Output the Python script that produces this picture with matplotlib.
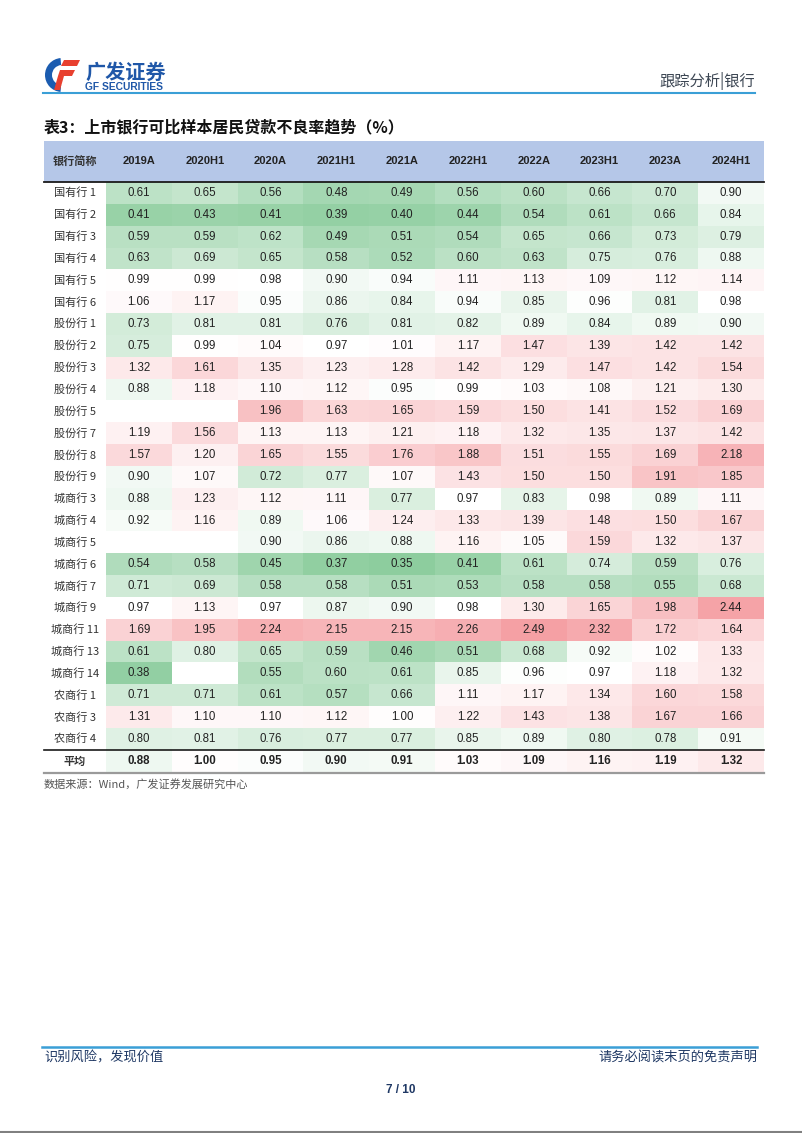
import numpy as np
import matplotlib
matplotlib.use("Agg")
import matplotlib.pyplot as plt
from matplotlib.colors import LinearSegmentedColormap, TwoSlopeNorm
from matplotlib.patches import Rectangle, Wedge, Polygon

plt.rcParams["font.family"] = ["Liberation Sans", "Noto Sans CJK SC", "DejaVu Sans"]
CJK = ["Noto Sans CJK SC", "DejaVu Sans"]

periods = ["2019A", "2020H1", "2020A", "2021H1", "2021A",
           "2022H1", "2022A", "2023H1", "2023A", "2024H1"]
banks = ["国有行 1", "国有行 2", "国有行 3", "国有行 4", "国有行 5", "国有行 6",
         "股份行 1", "股份行 2", "股份行 3", "股份行 4", "股份行 5", "股份行 7",
         "股份行 8", "股份行 9", "城商行 3", "城商行 4", "城商行 5", "城商行 6",
         "城商行 7", "城商行 9", "城商行 11", "城商行 13", "城商行 14",
         "农商行 1", "农商行 3", "农商行 4"]
nan = np.nan
npl = [
    [0.61, 0.65, 0.56, 0.48, 0.49, 0.56, 0.60, 0.66, 0.70, 0.90],
    [0.41, 0.43, 0.41, 0.39, 0.40, 0.44, 0.54, 0.61, 0.66, 0.84],
    [0.59, 0.59, 0.62, 0.49, 0.51, 0.54, 0.65, 0.66, 0.73, 0.79],
    [0.63, 0.69, 0.65, 0.58, 0.52, 0.60, 0.63, 0.75, 0.76, 0.88],
    [0.99, 0.99, 0.98, 0.90, 0.94, 1.11, 1.13, 1.09, 1.12, 1.14],
    [1.06, 1.17, 0.95, 0.86, 0.84, 0.94, 0.85, 0.96, 0.81, 0.98],
    [0.73, 0.81, 0.81, 0.76, 0.81, 0.82, 0.89, 0.84, 0.89, 0.90],
    [0.75, 0.99, 1.04, 0.97, 1.01, 1.17, 1.47, 1.39, 1.42, 1.42],
    [1.32, 1.61, 1.35, 1.23, 1.28, 1.42, 1.29, 1.47, 1.42, 1.54],
    [0.88, 1.18, 1.10, 1.12, 0.95, 0.99, 1.03, 1.08, 1.21, 1.30],
    [nan, nan, 1.96, 1.63, 1.65, 1.59, 1.50, 1.41, 1.52, 1.69],
    [1.19, 1.56, 1.13, 1.13, 1.21, 1.18, 1.32, 1.35, 1.37, 1.42],
    [1.57, 1.20, 1.65, 1.55, 1.76, 1.88, 1.51, 1.55, 1.69, 2.18],
    [0.90, 1.07, 0.72, 0.77, 1.07, 1.43, 1.50, 1.50, 1.91, 1.85],
    [0.88, 1.23, 1.12, 1.11, 0.77, 0.97, 0.83, 0.98, 0.89, 1.11],
    [0.92, 1.16, 0.89, 1.06, 1.24, 1.33, 1.39, 1.48, 1.50, 1.67],
    [nan, nan, 0.90, 0.86, 0.88, 1.16, 1.05, 1.59, 1.32, 1.37],
    [0.54, 0.58, 0.45, 0.37, 0.35, 0.41, 0.61, 0.74, 0.59, 0.76],
    [0.71, 0.69, 0.58, 0.58, 0.51, 0.53, 0.58, 0.58, 0.55, 0.68],
    [0.97, 1.13, 0.97, 0.87, 0.90, 0.98, 1.30, 1.65, 1.98, 2.44],
    [1.69, 1.95, 2.24, 2.15, 2.15, 2.26, 2.49, 2.32, 1.72, 1.64],
    [0.61, 0.80, 0.65, 0.59, 0.46, 0.51, 0.68, 0.92, 1.02, 1.33],
    [0.38, nan, 0.55, 0.60, 0.61, 0.85, 0.96, 0.97, 1.18, 1.32],
    [0.71, 0.71, 0.61, 0.57, 0.66, 1.11, 1.17, 1.34, 1.60, 1.58],
    [1.31, 1.10, 1.10, 1.12, 1.00, 1.22, 1.43, 1.38, 1.67, 1.66],
    [0.80, 0.81, 0.76, 0.77, 0.77, 0.85, 0.89, 0.80, 0.78, 0.91],
]
avg = [0.88, 1.00, 0.95, 0.90, 0.91, 1.03, 1.09, 1.16, 1.19, 1.32]

vals = np.array(npl + [avg])
W, H = 802, 1133

fig = plt.figure(figsize=(W / 100, H / 100), dpi=100)
ax = fig.add_axes([0, 0, 1, 1])
ax.set_xlim(0, W)
ax.set_ylim(H, 0)
ax.axis("off")

# table geometry (pixels)
left, lab_w = 44, 62
col_w = 65.8
row_top, row_h = 182, 21.84
x_edges = left + lab_w + col_w * np.arange(len(periods) + 1)
y_edges = row_top + row_h * np.arange(len(banks) + 1)
y_edges = np.append(y_edges, y_edges[-1] + 23)
right = x_edges[-1]

# green - white - red scale, centre at median
cmap = LinearSegmentedColormap.from_list("gwr", ["#8dcd9e", "#ffffff", "#f5a0a4"])
norm = TwoSlopeNorm(vmin=np.nanmin(vals), vcenter=np.nanmedian(vals), vmax=np.nanmax(vals))
ax.pcolormesh(x_edges, y_edges, np.ma.masked_invalid(vals), cmap=cmap, norm=norm)

# header
ax.add_patch(Rectangle((left, 141), right - left, row_top - 141, color="#b5c7e8", lw=0))
ax.text(left + lab_w / 2, 161.5, "银行简称", ha="center", va="center", fontsize=8,
        fontweight="bold", family=CJK, color="#333333")
xc = (x_edges[:-1] + x_edges[1:]) / 2
for x, p in zip(xc, periods):
    ax.text(x, 161.5, p, ha="center", va="center", fontsize=8, fontweight="bold", color="#222222")

yc = (y_edges[:-1] + y_edges[1:]) / 2
for i, name in enumerate(banks + ["平均"]):
    last = i == len(banks)
    ax.text(left + lab_w / 2, yc[i], name, ha="center", va="center", fontsize=8,
            family=CJK, color="#333333", fontweight="bold" if last else "normal")
    for j, x in enumerate(xc):
        v = vals[i, j]
        if np.isnan(v):
            continue
        ax.text(x, yc[i], f"{v:.2f}", ha="center", va="center", fontsize=8.3,
                color="#222222", fontweight="bold" if last else "normal")

ax.plot([left, right], [row_top, row_top], color="#1a1a1a", lw=1.3)
ax.plot([left, right], [y_edges[-2], y_edges[-2]], color="#1a1a1a", lw=1.2)
ax.plot([left, right], [y_edges[-1], y_edges[-1]], color="#9a9a9a", lw=1.6)

# title and source
ax.text(left, 127, "表3：上市银行可比样本居民贷款不良率趋势（%）", ha="left", va="center",
        fontsize=11.5, fontweight="bold", family=CJK, color="#111111")
ax.text(left, 784, "数据来源：Wind，广发证券发展研究中心", ha="left", va="center",
        fontsize=8, family=CJK, color="#555555")

# page header
ax.add_patch(Wedge((62, 75), 17, 95, 265, width=7, color="#1b5cb0", lw=0))
ax.add_patch(Polygon([[64, 60], [80, 60], [77, 66], [61, 66]], color="#e8402f", lw=0))
ax.add_patch(Polygon([[60, 70], [75, 70], [72, 76], [58, 76]], color="#e8402f", lw=0))
ax.add_patch(Polygon([[58, 76], [64, 76], [60, 90], [54, 90]], color="#e8402f", lw=0))
ax.text(85, 72, "广发证券", ha="left", va="center", fontsize=14.5, fontweight="black",
        family=CJK, color="#1f57a8")
ax.text(85, 87, "GF SECURITIES", ha="left", va="center", fontsize=7.4, fontweight="bold",
        color="#1f57a8")
ax.text(755, 81, "跟踪分析|银行", ha="right", va="center", fontsize=11, family=CJK,
        color="#3c4653")
ax.plot([43, 755], [92.5, 92.5], color="#3a9fd6", lw=1.5)

# page footer
ax.plot([42, 757], [1047, 1047], color="#3a9fd6", lw=1.8)
ax.text(44, 1058, "识别风险，发现价值", ha="left", va="center", fontsize=9.5, family=CJK,
        color="#1f3864")
ax.text(757, 1058, "请务必阅读末页的免责声明", ha="right", va="center", fontsize=9.5,
        family=CJK, color="#1f3864")
ax.text(401, 1090, "7 / 10", ha="center", va="center", fontsize=8.5, fontweight="bold",
        color="#1f3864")
ax.plot([0, W], [H - 1, H - 1], color="#808080", lw=1.5)

fig.savefig("out.png", dpi=100)
